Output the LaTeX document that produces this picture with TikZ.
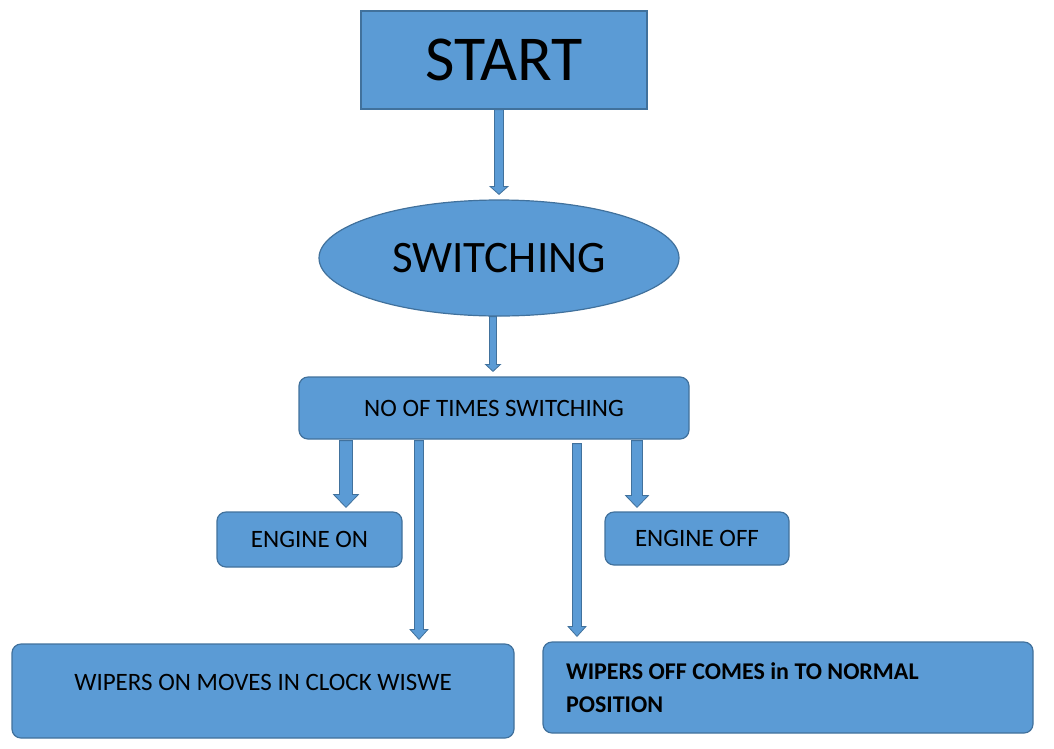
\documentclass[tikz,border=0pt]{standalone}
\usepackage{fontspec}
\setmainfont{Carlito}
\usetikzlibrary{shapes.geometric,calc}
\definecolor{fillc}{HTML}{5B9BD5}
\definecolor{bord}{HTML}{41719C}
\tikzset{
  box/.style={draw=bord, fill=fillc, line width=1.2pt, inner sep=0pt, text=black},
  rbox/.style={box, rounded corners=9pt},
  small/.style={font={\fontsize{25}{30}\selectfont}},
  barrow/.style n args={3}{draw=bord, fill=fillc, line width=0.8pt,
    to path={let \p1=(\tikztostart), \p2=(\tikztotarget) in
      (\x1-#1,\y1) -- (\x1-#1,\y2+#3) -- (\x1-#2,\y2+#3) -- (\x1,\y2)
      -- (\x1+#2,\y2+#3) -- (\x1+#1,\y2+#3) -- (\x1+#1,\y1) -- cycle}}
}
\begin{document}
\begin{tikzpicture}[x=1pt,y=-1pt]
\useasboundingbox (0,0) rectangle (1054,748);
\node[box, minimum width=286pt, minimum height=98pt, font={\fontsize{64}{66}\selectfont}] (start) at (504,60)
  {START};
\node[box, ellipse, minimum width=360pt, minimum height=116pt, font={\fontsize{45}{48}\selectfont}] (sw) at (499,258)
  {SWITCHING};
\node[rbox, small, minimum width=390pt, minimum height=62pt] (nots) at (494,408)
  {NO OF TIMES SWITCHING};
\node[rbox, small, minimum width=185pt, minimum height=55pt] (eon) at (309.5,539.5)
  {ENGINE ON};
\node[rbox, small, minimum width=184pt, minimum height=53pt] (eoff) at (697,538.5)
  {ENGINE OFF};
\node[rbox, small, minimum width=502pt, minimum height=94pt] (won) at (263,691)
  {\raisebox{9pt}[\height][\depth]{WIPERS ON MOVES IN CLOCK WISWE}};
\node[rbox, minimum width=490pt, minimum height=91pt, text width=444pt, align=flush left,
  font={\fontsize{24}{33}\selectfont\bfseries}] (woff) at (788,687.5)
  {WIPERS OFF COMES in TO NORMAL\\POSITION};

\draw[barrow={4.5pt}{9pt}{8pt}] ([xshift=-5pt]start.south) to ([yshift=5pt]sw.north);
\draw[barrow={3.5pt}{7.5pt}{7pt}] ([xshift=-6pt]sw.south) to ([yshift=5pt]nots.north);
\draw[barrow={6.5pt}{12.5pt}{13pt}] ([xshift=-148pt,yshift=-1pt]nots.south) to ([yshift=4pt]eon.north);
\draw[barrow={4.5pt}{9pt}{10pt}] ([xshift=-75pt,yshift=-1pt]nots.south) to ([yshift=4pt]won.north);
\draw[barrow={4.5pt}{9pt}{10pt}] ([xshift=83pt,yshift=-4pt]nots.south) to ([yshift=5pt]woff.north);
\draw[barrow={5.5pt}{11.5pt}{12pt}] ([xshift=143pt,yshift=-1pt]nots.south) to ([yshift=4pt]eoff.north);
\end{tikzpicture}
\end{document}
